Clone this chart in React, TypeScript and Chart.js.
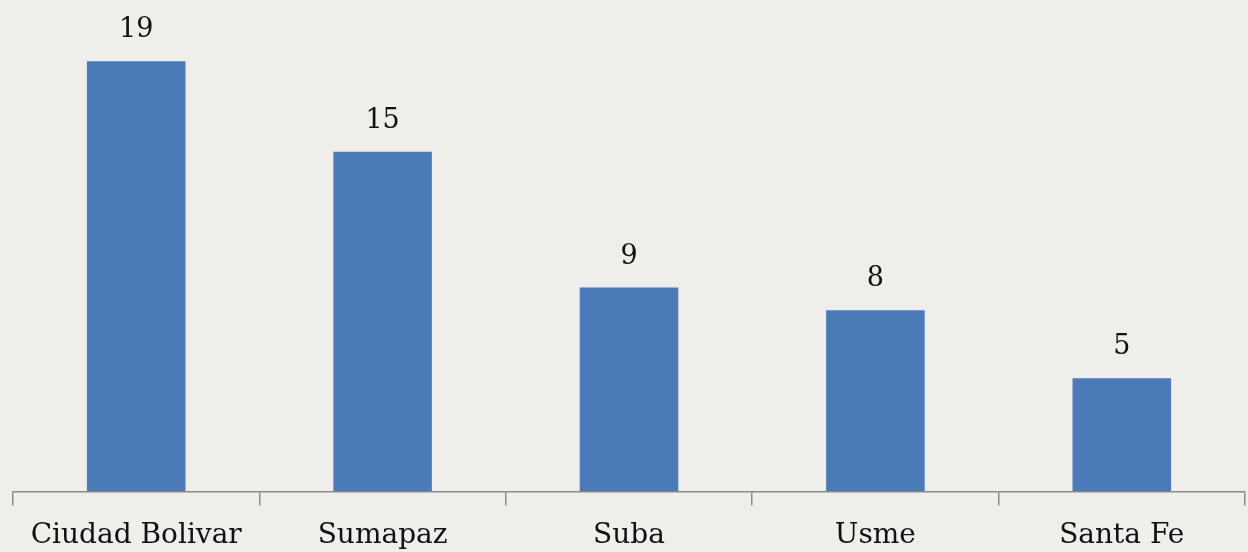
import React, { useEffect, useRef } from "react";
import { Chart, registerables } from "chart.js";

Chart.register(...registerables);

const categories = ["Ciudad Bolivar", "Sumapaz", "Suba", "Usme", "Santa Fe"];
const values = [19, 15, 9, 8, 5];

const valueLabels = {
  id: "valueLabels",
  afterDatasetsDraw(chart: any) {
    const ctx = chart.ctx;
    const meta = chart.getDatasetMeta(0);
    ctx.save();
    ctx.fillStyle = "#111111";
    ctx.font = "27px 'DejaVu Serif'";
    ctx.textAlign = "center";
    ctx.textBaseline = "alphabetic";
    meta.data.forEach((el: any, i: number) => {
      ctx.fillText(String(values[i]), el.x, el.y - 24);
    });
    ctx.restore();
  },
};

const bg = {
  id: "bg",
  beforeDraw(chart: any) {
    const ctx = chart.ctx;
    ctx.save();
    ctx.fillStyle = "#f0eeeb";
    ctx.fillRect(0, 0, chart.width, chart.height);
    ctx.restore();
  },
};

export default function App() {
  const ref = useRef<HTMLCanvasElement>(null);
  useEffect(() => {
    document.body.style.margin = "0";
    const chart = new Chart(ref.current!, {
      type: "bar",
      data: {
        labels: categories,
        datasets: [
          {
            data: values,
            backgroundColor: "#4a7bb8",
            borderWidth: 0,
            barPercentage: 0.4,
            categoryPercentage: 1,
          },
        ],
      },
      options: {
        animation: false,
        responsive: false,
        layout: { padding: { left: 13, right: 3, top: 0, bottom: 0 } },
        plugins: { legend: { display: false }, tooltip: { enabled: false } },
        scales: {
          x: {
            grid: {
              offset: true,
              drawOnChartArea: false,
              tickLength: 14,
              color: "#8c8c8c",
              lineWidth: 1.5,
            },
            border: { color: "#8c8c8c", width: 1.5 },
            ticks: {
              color: "#111111",
              font: { family: "'DejaVu Serif'", size: 28 },
              padding: 14,
              maxRotation: 0,
            },
          },
          y: { display: false, min: 0, max: 21.7 },
        },
      },
      plugins: [bg, valueLabels],
    });
    return () => chart.destroy();
  }, []);
  return (
    <div style={{ position: "fixed", left: 0, top: 0, width: 1248, height: 552, overflow: "hidden", background: "#f0eeeb" }}>
      <canvas ref={ref} width={1248} height={567} />
    </div>
  );
}
